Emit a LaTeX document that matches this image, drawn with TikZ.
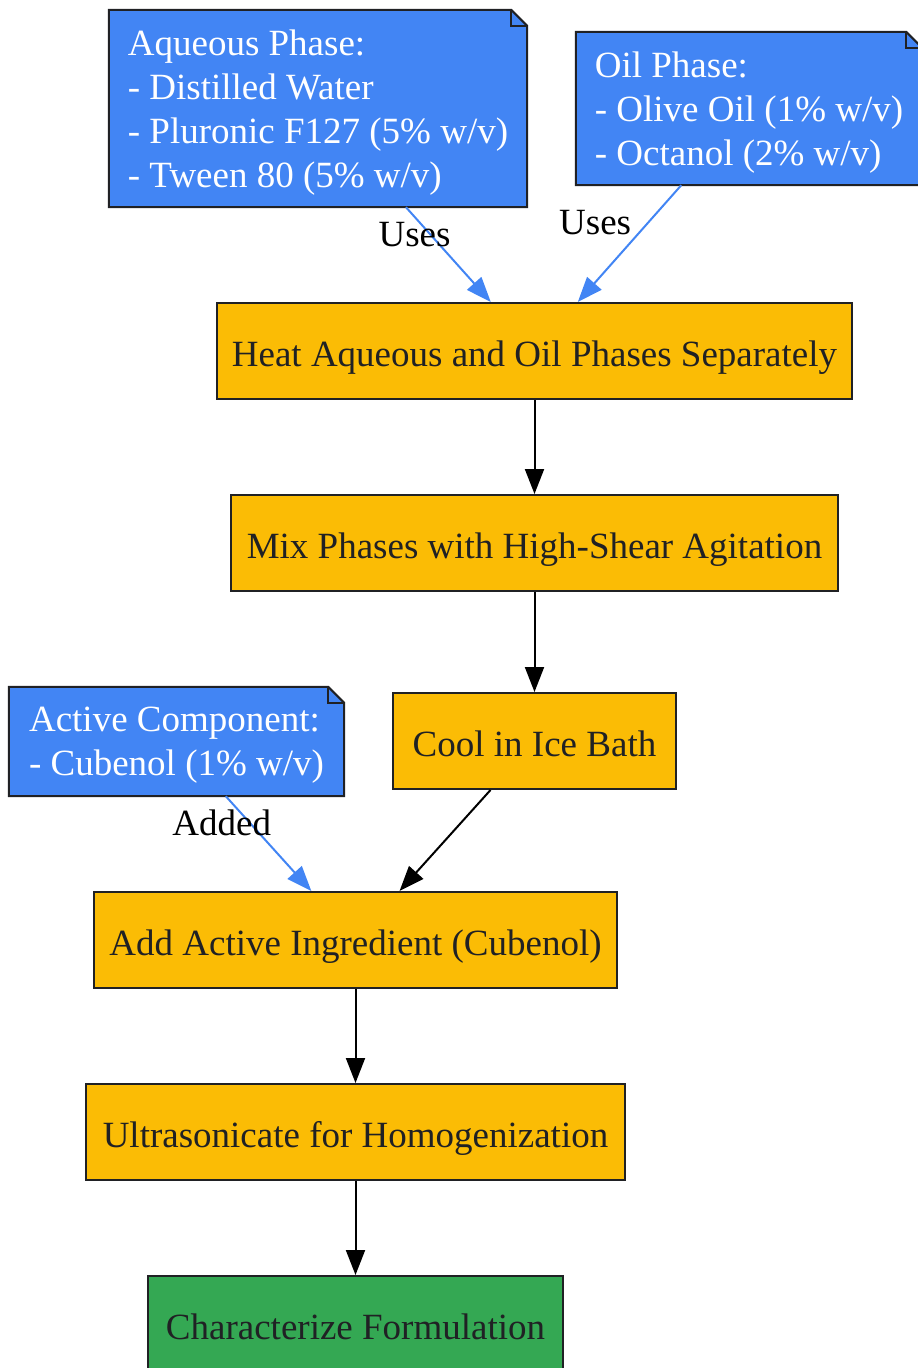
\documentclass[tikz,border=0pt]{standalone}
\usepackage{fontspec}
\setmainfont{Liberation Serif}
\usetikzlibrary{positioning, calc, arrows.meta, backgrounds}
\definecolor{gblue}{HTML}{4285F4}
\definecolor{gyellow}{HTML}{FBBC05}
\definecolor{ggreen}{HTML}{34A853}
\definecolor{gdark}{HTML}{202124}

\begin{document}
\begin{tikzpicture}[x=1pt, y=-1pt,
	stage/.style={draw=gdark, line width=2pt, fill=gyellow, text=gdark, minimum height=96pt, inner sep=0pt, text height=30pt, text depth=0pt, font=\fontsize{37}{44}\selectfont},
	memo/.style={text=white, align=left, inner sep=0pt, text depth=0pt, font=\fontsize{37}{44}\selectfont},
	lbl/.style={text=black, font=\fontsize{37}{44}\selectfont},
	flow/.style={-{Triangle[length=25pt,width=19pt]}, line width=2pt}]
			\useasboundingbox (0,0) rectangle (918,1368);
			\clip (0,0) rectangle (918,1368);
			% ingredient notes
			\node (n1) [memo, minimum width=418pt, minimum height=197pt] at (318,108.5) {Aqueous Phase:\\- Distilled Water\\- Pluronic F127 (5\% w/v)\\- Tween 80 (5\% w/v)};
			\node (n2) [memo, minimum width=346pt, minimum height=153pt] at (749,108.5) {Oil Phase:\\- Olive Oil (1\% w/v)\\- Octanol (2\% w/v)};
			% process steps
			\node (n3) [stage, minimum width=635pt] at (534.5,351) {Heat Aqueous and Oil Phases Separately};
			\node (n4) [stage, minimum width=607pt] at (534.5,543) {Mix Phases with High-Shear Agitation};
			\node (n5) [stage, minimum width=283pt] at (534.5,741) {Cool in Ice Bath};
			\node (n6) [memo, minimum width=335pt, minimum height=109pt] at (176.5,741.5) {Active Component:\\- Cubenol (1\% w/v)};
			\node (n7) [stage, minimum width=523pt] at (355.5,940) {Add Active Ingredient (Cubenol)};
			\node (n8) [stage, minimum width=539pt] at (355.5,1132) {Ultrasonicate for Homogenization};
			\node (n9) [stage, minimum width=415pt, fill=ggreen] at (355.5,1324) {Characterize Formulation};
			% folded corners behind the note texts
			\begin{scope}[on background layer]
				\foreach \n in {n1,n2,n6} {
					\draw [draw=gdark, line width=2pt, fill=gblue] (\n.north west) -- ([xshift=-16pt]\n.north east) -- ([yshift=-16pt]\n.north east) -- (\n.south east) -- (\n.south west) -- cycle;
					\draw [draw=gdark, line width=2pt] ([xshift=-16pt]\n.north east) |- ([yshift=-16pt]\n.north east);
				}
			\end{scope}
			% connectors
			\draw [flow, gblue] (n1) -- (n3) node[lbl, pos=0.29, xshift=-16pt] {Uses};
			\draw [flow, gblue] (n2) -- (n3) node[lbl, pos=0.32, xshift=-53pt] {Uses};
			\draw [flow] (n3) -- (n4);
			\draw [flow] (n4) -- (n5);
			\draw [flow] (n5) -- (n7);
			\draw [flow, gblue] (n6) -- (n7) node[lbl, pos=0.28, xshift=-28pt] {Added};
			\draw [flow] (n7) -- (n8);
			\draw [flow] (n8) -- (n9);
		\end{tikzpicture}
\end{document}
